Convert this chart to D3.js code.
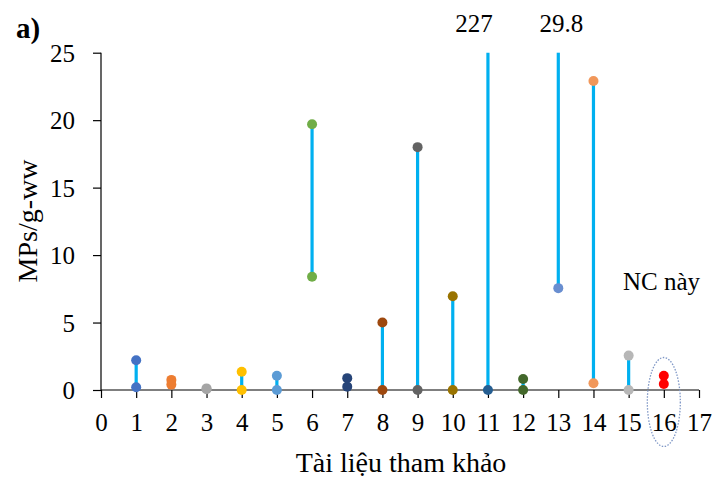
<!DOCTYPE html>
<html><head><meta charset="utf-8">
<script src="https://cdn.jsdelivr.net/npm/d3@7"></script>
<style>body{margin:0;background:#fff}svg{display:block}</style>
</head><body>
<svg id="c" width="724" height="477"></svg>
<script>
const refs = [1,2,3,4,5,6,7,8,9,10,11,12,13,14,15,16];
const minVals = [0.2,0.4,0.06,0,0,8.4,0.25,0,0,0,0,0,7.55,0.5,0,0.45];
const maxVals = [2.2,0.75,0.12,1.35,1.05,19.7,0.88,5.0,18.0,6.95,227,0.82,29.8,22.9,2.55,1.05];
const minColors = ["#4472C4","#ED7D31","#A5A5A5","#FFC000","#5B9BD5","#70AD47","#264478","#9E480E","#636363","#997300","#255E91","#43682B","#698ED0","#F1975A","#B7B7B7","#FF0000"];
const maxColors = ["#4472C4","#ED7D31","#A5A5A5","#FFC000","#5B9BD5","#70AD47","#264478","#9E480E","#636363","#997300",null,"#43682B",null,"#F1975A","#B7B7B7","#FF0000"];
const offLabels = [{ref:11,text:"227"},{ref:13,text:"29.8"}];
const xTicks = d3.range(0,18);
const yTicks = [0,5,10,15,20,25];

const FONT = "'Liberation Serif','Times New Roman',serif";
const svg = d3.select("#c");
const x = d3.scaleLinear().domain([0,17]).range([101,699]);
const y = d3.scaleLinear().domain([0,25]).range([390,52.7]);
const yc = v => y(Math.min(v,25));

// axes
const xa = svg.append("g").attr("transform","translate(0,390)")
  .call(d3.axisBottom(x).tickValues(xTicks).tickSize(8).tickPadding(15).tickFormat(d3.format("d")));
const ya = svg.append("g").attr("transform","translate(101,0)")
  .call(d3.axisLeft(y).tickValues(yTicks).tickSize(8).tickPadding(18));
[xa,ya].forEach(a=>{
  a.attr("font-family",null).attr("font-size",null);
  a.select(".domain").attr("stroke","#000").attr("stroke-width",1.2);
  a.selectAll(".tick line").attr("stroke","#000").attr("stroke-width",1.2);
  a.selectAll(".tick text").style("font-family",FONT).style("font-size","25px").attr("fill","#000");
});
ya.select(".domain").attr("d","M0,52.7V390");
xa.select(".domain").attr("d","M101,0H699");
xa.selectAll(".tick text").attr("dy","0.71em");
ya.selectAll(".tick text").attr("dy","0.35em");

// stems
const data = refs.map((r,i)=>({r,min:minVals[i],max:maxVals[i],cmin:minColors[i],cmax:maxColors[i]}));
svg.append("g").selectAll("line").data(data).join("line")
  .attr("x1",d=>x(d.r)).attr("x2",d=>x(d.r))
  .attr("y1",d=>yc(d.min)).attr("y2",d=>yc(d.max))
  .attr("stroke","#00B0F0").attr("stroke-width",3.2);
// points
const pts = svg.append("g");
pts.selectAll("circle.mx").data(data.filter(d=>d.cmax)).join("circle").attr("class","mx")
  .attr("cx",d=>x(d.r)).attr("cy",d=>y(d.max)).attr("r",5).attr("fill",d=>d.cmax);
pts.selectAll("circle.mn").data(data).join("circle").attr("class","mn")
  .attr("cx",d=>x(d.r)).attr("cy",d=>y(d.min)).attr("r",5).attr("fill",d=>d.cmin);

// off-scale labels
svg.selectAll("text.off").data(offLabels).join("text").attr("class","off")
  .attr("x",d=>x(d.ref)-(d.text==="227"?14:-3)).attr("y",31.5).attr("text-anchor","middle")
  .style("font-family",FONT).style("font-size","25px").text(d=>d.text);

// ellipse and note
svg.append("ellipse").attr("cx",x(16)).attr("cy",402).attr("rx",16.5).attr("ry",44.5)
  .attr("fill","none").attr("stroke","#7F97C6").attr("stroke-width",1.3).attr("stroke-dasharray","1.5,1.5");
svg.append("text").attr("x",623).attr("y",290).style("font-family",FONT).style("font-size","25px").text("NC này");

// titles
svg.append("text").attr("x",401).attr("y",471.5).attr("text-anchor","middle").style("font-family",FONT).style("font-size","28px").text("Tài liệu tham khảo");
svg.append("text").attr("transform","translate(37,221) rotate(-90)").attr("text-anchor","middle").style("font-family",FONT).style("font-size","28px").text("MPs/g-ww");
svg.append("text").attr("x",16).attr("y",38).style("font-family",FONT).style("font-size","29px").style("font-weight","bold").text("a)");
</script>
</body></html>
